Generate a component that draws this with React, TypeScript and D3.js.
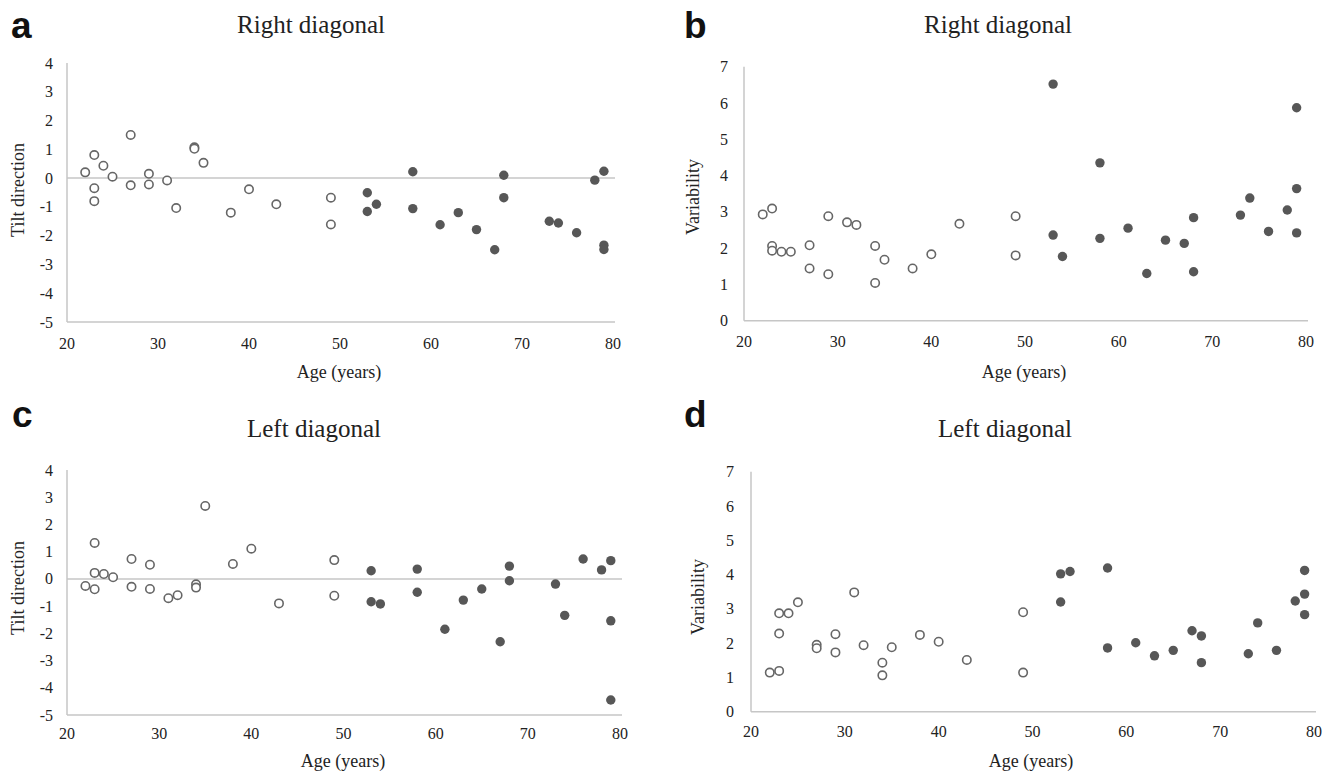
import * as d3 from "d3";

// ages of the two groups (same subjects in every panel)
const youngAges = [22, 23, 23, 23, 24, 25, 27, 27, 29, 29, 31, 32, 34, 34, 35, 38, 40, 43, 49, 49];
const oldAges = [53, 53, 54, 58, 58, 61, 63, 65, 67, 68, 68, 73, 74, 76, 78, 79, 79, 79];

// a: right diagonal, tilt direction
const aYoung = [0.2, 0.8, -0.35, -0.8, 0.43, 0.05, 1.5, -0.25, 0.15, -0.22, -0.08, -1.04, 1.07, 1.02, 0.53, -1.2, -0.39, -0.91, -0.68, -1.61];
const aOld = [-0.51, -1.16, -0.91, 0.22, -1.06, -1.62, -1.2, -1.79, -2.49, 0.1, -0.68, -1.5, -1.56, -1.9, -0.07, 0.24, -2.33, -2.48];

// b: right diagonal, variability
const bYoung = [2.93, 3.09, 2.06, 1.93, 1.9, 1.9, 2.08, 1.44, 2.88, 1.28, 2.71, 2.64, 2.06, 1.04, 1.68, 1.44, 1.83, 2.67, 2.88, 1.8];
const bOld = [6.52, 2.36, 1.77, 4.35, 2.27, 2.55, 1.3, 2.22, 2.13, 2.84, 1.35, 2.91, 3.38, 2.46, 3.05, 5.87, 3.64, 2.42];

// c: left diagonal, tilt direction
const cYoung = [-0.26, 1.32, 0.22, -0.38, 0.18, 0.06, 0.73, -0.29, 0.52, -0.37, -0.71, -0.6, -0.2, -0.32, 2.68, 0.55, 1.11, -0.9, 0.69, -0.62];
const cOld = [0.3, -0.84, -0.92, 0.36, -0.49, -1.85, -0.78, -0.37, -2.31, 0.47, -0.07, -0.19, -1.34, 0.73, 0.33, 0.67, -1.54, -4.45];

// d: left diagonal, variability
const dYoung = [1.14, 2.87, 2.28, 1.19, 2.87, 3.19, 1.95, 1.85, 2.26, 1.73, 3.48, 1.94, 1.43, 1.06, 1.88, 2.24, 2.04, 1.51, 2.9, 1.14];
const dOld = [4.02, 3.2, 4.09, 4.19, 1.86, 2.01, 1.63, 1.79, 2.36, 2.21, 1.43, 1.69, 2.59, 1.79, 3.23, 4.12, 3.43, 2.83];

const xTicks = [20, 30, 40, 50, 60, 70, 80];
const tiltTicks = [4, 3, 2, 1, 0, -1, -2, -3, -4, -5];
const varTicks = [0, 1, 2, 3, 4, 5, 6, 7];

const SERIF = "'Liberation Serif', 'DejaVu Serif', serif";
const AXIS = "#c6c6c6";

type PanelProps = {
  letter: string;
  title: string;
  yLabel: string;
  young: number[];
  old: number[];
  yDomain: [number, number];
  yTicks: number[];
  zeroLine: boolean;
  box: { x0: number; x1: number; top: number; bottom: number };
  text: {
    letterX: number; letterY: number;
    titleX: number; titleY: number;
    yLabelX: number; yLabelY: number;
    tickRight: number; xTickY: number;
    xLabelX: number; xLabelY: number;
  };
};

function Panel({ letter, title, yLabel, young, old, yDomain, yTicks, zeroLine, box, text }: PanelProps) {
  const x = d3.scaleLinear().domain([20, 80]).range([box.x0, box.x1]);
  const y = d3.scaleLinear().domain(yDomain).range([box.bottom, box.top]);

  return (
    <g>
      <text x={text.letterX} y={text.letterY} fontFamily="'Liberation Sans', Arial, sans-serif"
        fontWeight="bold" fontSize={37} fill="#111">{letter}</text>
      <text x={text.titleX} y={text.titleY} textAnchor="middle" fontFamily={SERIF}
        fontSize={25} fill="#222">{title}</text>

      {/* axes */}
      <line x1={box.x0} x2={box.x0} y1={box.top} y2={box.bottom} stroke={AXIS} strokeWidth={1.5} />
      <line x1={box.x0} x2={box.x1 + 2} y1={box.bottom} y2={box.bottom} stroke={AXIS} strokeWidth={1.5} />
      {zeroLine && (
        <line x1={box.x0} x2={box.x1 + 2} y1={y(0)} y2={y(0)} stroke={AXIS} strokeWidth={1.5} />
      )}

      {yTicks.map(t => (
        <text key={"y" + t} x={text.tickRight} y={y(t)} dy="0.35em" textAnchor="end"
          fontFamily={SERIF} fontSize={16} fill="#222">{t}</text>
      ))}
      {xTicks.map(t => (
        <text key={"x" + t} x={x(t)} y={text.xTickY} textAnchor="middle"
          fontFamily={SERIF} fontSize={16} fill="#222">{t}</text>
      ))}

      <text transform={`translate(${text.yLabelX},${text.yLabelY}) rotate(-90)`} dy="0.35em"
        textAnchor="middle" fontFamily={SERIF} fontSize={18} fill="#222">{yLabel}</text>
      <text x={text.xLabelX} y={text.xLabelY} textAnchor="middle" fontFamily={SERIF}
        fontSize={18} fill="#222">Age (years)</text>

      {young.map((v, i) => (
        <circle key={"o" + i} cx={x(youngAges[i])} cy={y(v)} r={4.2}
          fill="#fff" stroke="#666" strokeWidth={1.6} />
      ))}
      {old.map((v, i) => (
        <circle key={"f" + i} cx={x(oldAges[i])} cy={y(v)} r={4.7} fill="#575757" />
      ))}
    </g>
  );
}

export default function App() {
  return (
    <div style={{ position: "fixed", left: 0, top: 0 }}>
      <svg width={1336} height={773} style={{ display: "block", background: "#fff" }}>
        <Panel letter="a" title="Right diagonal" yLabel="Tilt direction"
          young={aYoung} old={aOld} yDomain={[-5, 4]} yTicks={tiltTicks} zeroLine
          box={{ x0: 67, x1: 613, top: 63, bottom: 322 }}
          text={{ letterX: 11, letterY: 38, titleX: 311, titleY: 33, yLabelX: 18, yLabelY: 190,
            tickRight: 53, xTickY: 349, xLabelX: 339, xLabelY: 378 }} />
        <Panel letter="b" title="Right diagonal" yLabel="Variability"
          young={bYoung} old={bOld} yDomain={[0, 7]} yTicks={varTicks} zeroLine={false}
          box={{ x0: 744, x1: 1306, top: 66.7, bottom: 320.7 }}
          text={{ letterX: 684, letterY: 38, titleX: 998, titleY: 33, yLabelX: 693, yLabelY: 197,
            tickRight: 728, xTickY: 347, xLabelX: 1024, xLabelY: 378 }} />
        <Panel letter="c" title="Left diagonal" yLabel="Tilt direction"
          young={cYoung} old={cOld} yDomain={[-5, 4]} yTicks={tiltTicks} zeroLine
          box={{ x0: 67, x1: 620, top: 470, bottom: 715 }}
          text={{ letterX: 12, letterY: 427, titleX: 314, titleY: 437, yLabelX: 18, yLabelY: 588,
            tickRight: 53, xTickY: 739, xLabelX: 343, xLabelY: 767 }} />
        <Panel letter="d" title="Left diagonal" yLabel="Variability"
          young={dYoung} old={dOld} yDomain={[0, 7]} yTicks={varTicks} zeroLine={false}
          box={{ x0: 751, x1: 1314, top: 471.7, bottom: 711.7 }}
          text={{ letterX: 684, letterY: 427, titleX: 1005, titleY: 437, yLabelX: 698, yLabelY: 597,
            tickRight: 734, xTickY: 737, xLabelX: 1031, xLabelY: 767 }} />
      </svg>
    </div>
  );
}
